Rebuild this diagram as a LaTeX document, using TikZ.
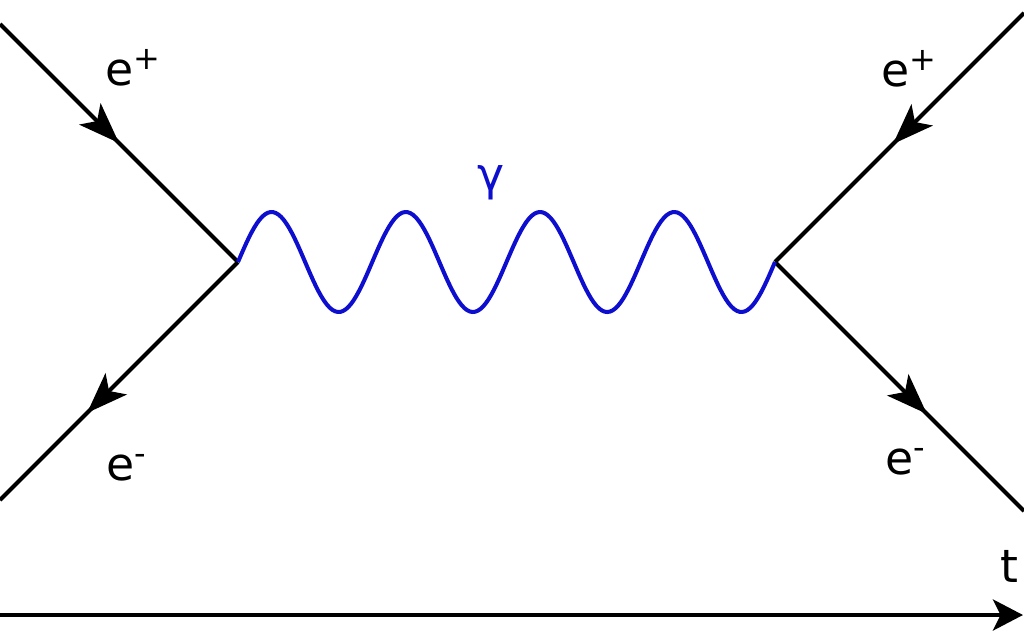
\documentclass[tikz,border=0pt]{standalone}
\usepackage{fontspec}
\setmainfont{DejaVu Sans}
\usetikzlibrary{positioning,calc,arrows.meta,decorations.markings}
\definecolor{photon blue}{RGB}{14,14,206}
\tikzset{
  >=stealth,
  fermion tip/.tip={Stealth[length=0.82cm,width=0.6cm,inset=0.2cm]},
  time tip/.tip={Stealth[length=0.6cm,width=0.62cm,inset=0.15cm]},
  my fermion/.style={
    draw,
    line width=2.3pt,
    postaction={decorate},
    decoration={markings,mark=at position #1 with {\arrow{fermion tip}}}
  },
  my photon/.style={
    draw=photon blue,
    line width=2.3pt,
    line join=round
  },
  my axis/.style={
    draw,
    line width=2.3pt,
    -{time tip}
  },
  my label/.style={
    inner sep=0pt,
    font=\fontsize{26}{30}\selectfont
  }
}

\begin{document}
\begin{tikzpicture}[x=0.02cm,y=-0.02cm]
\useasboundingbox (0,0) rectangle (1024,640);
% vertices and free ends
\coordinate (vl) at (238,262);
\coordinate (vr) at (775,262);
\coordinate (inl) at (0,24);
\coordinate (outl) at (0,500);
\coordinate (inr) at (1024,13);
\coordinate (outr) at (1024,511);
% fermion lines
\draw[my fermion=0.5] (inl) -- (vl);
\draw[my fermion=0.634] (vl) -- (outl);
\draw[my fermion=0.526] (inr) -- (vr);
\draw[my fermion=0.61] (vr) -- (outr);
% photon, four full waves from vl to vr
\draw[my photon] (vl) plot[domain=0:1,samples=200] ({238+537*\x},{262-50*sin(1440*\x)}) -- (vr);
% time axis
\coordinate (t0) at (0,615);
\coordinate (t1) at (1023,615);
\draw[my axis] (t0) -- (t1);
% labels
\node[my label,anchor=base west] (ep left) at (105,85) {e\textsuperscript{+}};
\node[my label,anchor=base west] (em left) at (106,480) {e\textsuperscript{-}};
\node[my label,anchor=base west] (ep right) at (881,86) {e\textsuperscript{+}};
\node[my label,anchor=base west] (em right) at (885,474) {e\textsuperscript{-}};
\node[my label,text=photon blue] (gamma) at (491,183) {γ};
\node[my label,anchor=base west] (time) at (1000,582) {t};
\end{tikzpicture}
\end{document}
